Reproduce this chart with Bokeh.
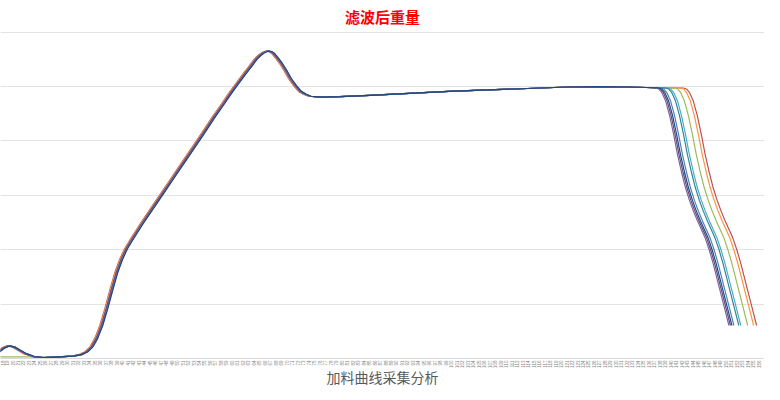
import numpy as np
from bokeh.plotting import figure
from bokeh.models import FixedTicker, Range1d
from bokeh.embed import file_html
from bokeh.resources import INLINE

# ---- data (x in sample position units, y in weight units) ----
head_x = [0, 5, 10, 15, 20, 25, 32, 40, 50, 60,
          70, 80, 88, 94, 99, 104, 109, 114, 119, 124,
          129, 134, 140, 150, 160, 170, 180, 190, 200, 212,
          223, 232, 240, 248, 255, 260, 265, 269, 273, 277,
          280, 283, 287, 290, 295, 300, 305, 310, 315, 320,
          330, 350, 380, 420, 460, 500, 540, 580, 610, 640,
          660]
head_y = [0.054, 0.125, 0.196, 0.232, 0.214, 0.161, 0.089, 0.036, 0.018, 0.027,
          0.036, 0.045, 0.071, 0.125, 0.214, 0.375, 0.607, 0.911, 1.25, 1.571,
          1.821, 2.018, 2.196, 2.482, 2.75, 3.018, 3.286, 3.554, 3.821, 4.143,
          4.446, 4.679, 4.893, 5.089, 5.259, 5.375, 5.5, 5.571, 5.625, 5.652,
          5.643, 5.607, 5.518, 5.446, 5.304, 5.143, 5.018, 4.911, 4.857, 4.821,
          4.804, 4.813, 4.839, 4.875, 4.911, 4.938, 4.964, 4.991, 5.0, 4.991,
          4.982]
flat_start_y = [0.03, 0.03, 0.03, 0.03, 0.03, 0.03, 0.03, 0.03, 0.02]

tail_x = [670, 673, 676, 680, 684, 688, 692, 696, 700, 704,
          708, 712, 716, 720, 724, 728, 732, 736, 740, 744]
tail_y = [4.973, 4.955, 4.893, 4.732, 4.464, 4.125, 3.75, 3.429, 3.143, 2.911,
          2.714, 2.536, 2.375, 2.214, 2.0, 1.75, 1.464, 1.179, 0.893, 0.607]

series_colors = ["#C0504D", "#F79646", "#9BBB59", "#4BACC6", "#31859C",
                 "#4F81BD", "#604A7B", "#8064A2", "#1F497D"]
series_bump = [True, True, False, True, True, True, True, True, True]
series_head_shift = [-1.5, -1.0, 0.5, 1.0, 0.5, 0.0, 0.0, 0.8, 1.5]
series_tail_shift = [28, 25, 19, 12, 10, 5, 1.5, 0, 3]

tick_labels = [str(n) for n in range(17, 157)]
x_title = "加料曲线采集分析"

# ---- figure ----
p = figure(width=764, height=390, output_backend="svg", toolbar_location=None,
           x_range=Range1d(7, 780), y_range=Range1d(0, 6.03),
           min_border_left=0, min_border_right=0, min_border_top=0, min_border_bottom=0)
p.outline_line_color = None
p.background_fill_color = "white"
p.border_fill_color = "white"

p.title.text = "滤波后重量"
p.title.align = "center"
p.title.text_color = "#FF0000"
p.title.text_font = "Noto Sans CJK SC"
p.title.text_font_size = "15px"
p.title.text_font_style = "bold"
p.title.standoff = 7

for c, bump, hs, ts in zip(series_colors, series_bump, series_head_shift, series_tail_shift):
    hy = list(head_y)
    if not bump:
        hy[:len(flat_start_y)] = flat_start_y
    xs = [x + hs for x in head_x] + [x + ts for x in tail_x]
    ys = hy + tail_y
    p.line(xs, ys, line_color=c, line_width=1.2)

ticks = [2.5 + 5.55 * i for i in range(len(tick_labels))]
p.xaxis.ticker = FixedTicker(ticks=ticks)
p.xaxis.major_label_overrides = {t: l for t, l in zip(ticks, tick_labels)}
p.xaxis.major_label_orientation = np.pi / 2
p.xaxis.major_label_text_font_size = "4.5px"
p.xaxis.major_label_text_color = "#7f7f7f"
p.xaxis.major_label_standoff = 2
p.xaxis.major_tick_line_color = None
p.xaxis.minor_tick_line_color = None
p.xaxis.major_tick_out = 0
p.xaxis.major_tick_in = 0
p.xaxis.minor_tick_out = 0
p.xaxis.axis_line_color = "#d9d9d9"
p.xaxis.axis_label = x_title
p.xaxis.axis_label_text_font = "Noto Sans CJK SC"
p.xaxis.axis_label_text_font_size = "14px"
p.xaxis.axis_label_text_font_style = "normal"
p.xaxis.axis_label_text_color = "#595959"
p.xaxis.axis_label_standoff = -4

p.yaxis.visible = False
p.xgrid.visible = False
p.ygrid.ticker = FixedTicker(ticks=[0, 1, 2, 3, 4, 5, 6])
p.ygrid.grid_line_color = "#e3e3e3"

open("out.html", "w").write(file_html(p, INLINE))
